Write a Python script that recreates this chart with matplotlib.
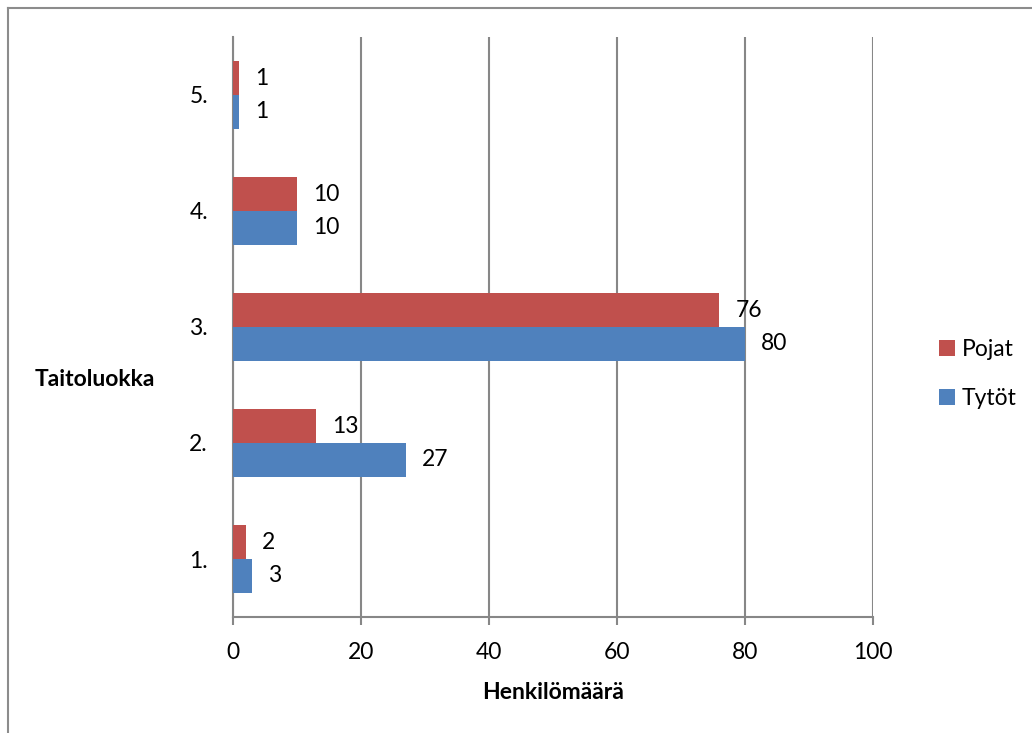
import matplotlib
matplotlib.use("Agg")
import matplotlib.pyplot as plt
from matplotlib.lines import Line2D
from matplotlib.patches import Patch
import numpy as np

plt.rcParams['font.family'] = ['Lato', 'DejaVu Sans']

categories = ["1.", "2.", "3.", "4.", "5."]
tytot = [3, 27, 80, 10, 1]
pojat = [2, 13, 76, 10, 1]
xticks = [0, 20, 40, 60, 80, 100]

blue = "#4F81BD"
red = "#C0504D"
grid_col = "#878787"
fs = 16.5

W, H = 1032, 733
fig = plt.figure(figsize=(W / 100, H / 100), dpi=100)
fig.patch.set_facecolor("white")

# outer chart-area frame (top and left edges visible)
fig.add_artist(Line2D([8 / W, 1], [1 - 8 / H, 1 - 8 / H], color="#8c8c8c", lw=1.5))
fig.add_artist(Line2D([8 / W, 8 / W], [0, 1 - 8 / H], color="#8c8c8c", lw=1.5))

ax = fig.add_axes([233 / W, 1 - 617 / H, (873 - 233) / W, (617 - 37) / H])

y = np.arange(len(categories))
h = 0.29
ax.barh(y - h / 2, tytot, height=h, color=blue, edgecolor="none", zorder=3)
ax.barh(y + h / 2, pojat, height=h, color=red, edgecolor="none", zorder=3)

for yi, v in zip(y, tytot):
    ax.text(v + 2.5, yi - h / 2, str(v), va="center", ha="left", fontsize=fs, zorder=4)
for yi, v in zip(y, pojat):
    ax.text(v + 2.5, yi + h / 2, str(v), va="center", ha="left", fontsize=fs, zorder=4)

ax.set_xlim(0, 100)
ax.set_ylim(-0.5, 4.5)
ax.set_xticks(xticks)
ax.set_xticklabels([str(t) for t in xticks], fontsize=fs)
ax.set_yticks(y)
ax.set_yticklabels(categories, fontsize=fs)
ax.tick_params(axis="x", length=6, width=1.5, color=grid_col, pad=12)
ax.tick_params(axis="y", length=0, pad=18)
ax.xaxis.grid(True, color=grid_col, lw=1.5, zorder=1)
for s in ["top", "right"]:
    ax.spines[s].set_visible(False)
for s in ["left", "bottom"]:
    ax.spines[s].set_color(grid_col)
    ax.spines[s].set_linewidth(1.5)

ax.set_xlabel("Henkilömäärä", fontsize=fs, fontweight="bold", labelpad=14)
fig.text(35 / W, 1 - 379 / H, "Taitoluokka", fontsize=fs, fontweight="bold",
         ha="left", va="center")

handles = [Patch(facecolor=red, label="Pojat"), Patch(facecolor=blue, label="Tytöt")]
fig.legend(handles=handles, loc="center left", bbox_to_anchor=(918 / W, 1 - 374 / H),
           frameon=False, fontsize=fs, handlelength=0.7, handleheight=0.7,
           handletextpad=0.3, labelspacing=1.2)

fig.savefig("out.png", dpi=100)
